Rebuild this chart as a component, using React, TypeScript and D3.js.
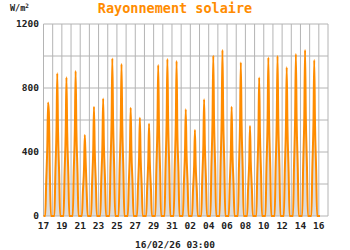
import React from "react";
import * as d3 from "d3";

const title = "Rayonnement solaire";
const unitLabel = "W/m";
const footer = "16/02/26 03:00";
const startDate = new Date(Date.UTC(2026, 0, 17));
const endDate = new Date(Date.UTC(2026, 1, 17));
const nowDate = new Date(Date.UTC(2026, 1, 16, 3));
const yTicks = [0, 400, 800, 1200];
const yGrid = [0, 200, 400, 600, 800, 1000, 1200];
const hours = [4.5, 7, 10, 12, 14, 17, 19.5];
// one row per day (17 Jan .. 15 Feb), W/m² at the hours above
const dailyValues: number[][] = [
  [0, 210, 440, 710, 650, 220, 0],
  [0, 270, 540, 892, 530, 260, 0],
  [0, 260, 520, 867, 520, 260, 0],
  [0, 270, 540, 906, 540, 270, 0],
  [0, 150, 300, 506, 362, 150, 0],
  [0, 200, 410, 683, 410, 200, 0],
  [0, 220, 440, 735, 440, 220, 0],
  [0, 300, 590, 985, 590, 290, 0],
  [0, 290, 570, 950, 570, 280, 0],
  [0, 200, 410, 677, 400, 200, 0],
  [0, 180, 370, 614, 370, 180, 0],
  [0, 170, 350, 577, 340, 170, 0],
  [0, 280, 570, 944, 560, 280, 0],
  [0, 290, 590, 981, 590, 290, 0],
  [0, 290, 580, 969, 537, 280, 0],
  [0, 200, 400, 667, 400, 200, 0],
  [0, 160, 320, 537, 320, 160, 0],
  [0, 220, 440, 729, 440, 220, 0],
  [0, 300, 600, 1002, 600, 300, 0],
  [0, 310, 620, 1037, 620, 310, 0],
  [0, 200, 410, 683, 410, 200, 0],
  [0, 290, 580, 960, 580, 290, 0],
  [0, 170, 340, 562, 340, 170, 0],
  [0, 260, 520, 865, 520, 260, 0],
  [0, 300, 590, 990, 590, 300, 0],
  [0, 300, 600, 1000, 600, 300, 0],
  [0, 280, 560, 929, 560, 280, 0],
  [0, 300, 610, 1012, 600, 300, 0],
  [0, 310, 620, 1037, 620, 310, 0],
  [0, 290, 590, 975, 580, 290, 0],
];

type Pt = { t: Date; v: number };

export default function App() {
  const W = 350, H = 250;
  const left = 43.5, right = 328, top = 24, bottom = 216;
  const x = d3.scaleUtc().domain([startDate, endDate]).range([left, right]);
  const y = d3.scaleLinear().domain([0, 1200]).range([bottom, top]);

  const pts: Pt[] = [{ t: startDate, v: 0 }];
  dailyValues.forEach((row, d) => {
    row.forEach((v, i) => {
      const t = new Date(d3.utcDay.offset(startDate, d).getTime() + hours[i] * 3600e3);
      pts.push({ t, v });
    });
  });
  pts.push({ t: nowDate, v: 0 });

  const area = d3.area<Pt>().x((p) => x(p.t)).y0(bottom).y1((p) => y(p.v)).curve(d3.curveMonotoneX);
  const line = d3.line<Pt>().x((p) => x(p.t)).y((p) => y(p.v)).curve(d3.curveMonotoneX);

  const dayGrid = d3.utcDay.range(startDate, d3.utcDay.offset(endDate, 1));
  const labelDays = d3.utcDay.range(startDate, endDate).filter((_, i) => i % 2 === 0);
  const fmt = d3.utcFormat("%d");
  const font = "'DejaVu Sans Mono', monospace";
  const grid = "#b4b4b4";

  return (
    <svg width={W} height={H} style={{ position: "absolute", left: 0, top: 0, background: "#fff" }}>
      <text x={175} y={13} textAnchor="middle" fill="#ff8c00" fontFamily={font} fontWeight="bold" fontSize={13.5}>
        {title}
      </text>
      <text x={10} y={11} fill="#222" fontFamily={font} fontWeight="bold" fontSize={8.5}>
        {unitLabel}
        <tspan dy={-3} fontSize={6}>2</tspan>
      </text>
      <path d={area(pts) || ""} fill="#dcdcdc" />
      {yGrid.map((v) => (
        <line key={"h" + v} x1={left} x2={right} y1={y(v)} y2={y(v)} stroke={grid} strokeWidth={1} />
      ))}
      {dayGrid.map((d) => (
        <line key={"v" + d.getTime()} x1={x(d)} x2={x(d)} y1={top} y2={bottom} stroke={grid} strokeWidth={1} />
      ))}
      <path d={line(pts) || ""} fill="none" stroke="#ff8c00" strokeWidth={2} strokeLinejoin="round" />
      {yTicks.map((v) => (
        <text key={"yl" + v} x={39} y={y(v) + 3} textAnchor="end" fill="#222" fontFamily={font} fontWeight="bold" fontSize={9.5}>
          {v}
        </text>
      ))}
      {labelDays.map((d) => (
        <text key={"xl" + d.getTime()} x={x(d)} y={229} textAnchor="middle" fill="#222" fontFamily={font} fontWeight="bold" fontSize={9.5}>
          {fmt(d)}
        </text>
      ))}
      <text x={175} y={248} textAnchor="middle" fill="#222" fontFamily={font} fontWeight="bold" fontSize={9.5}>
        {footer}
      </text>
    </svg>
  );
}
